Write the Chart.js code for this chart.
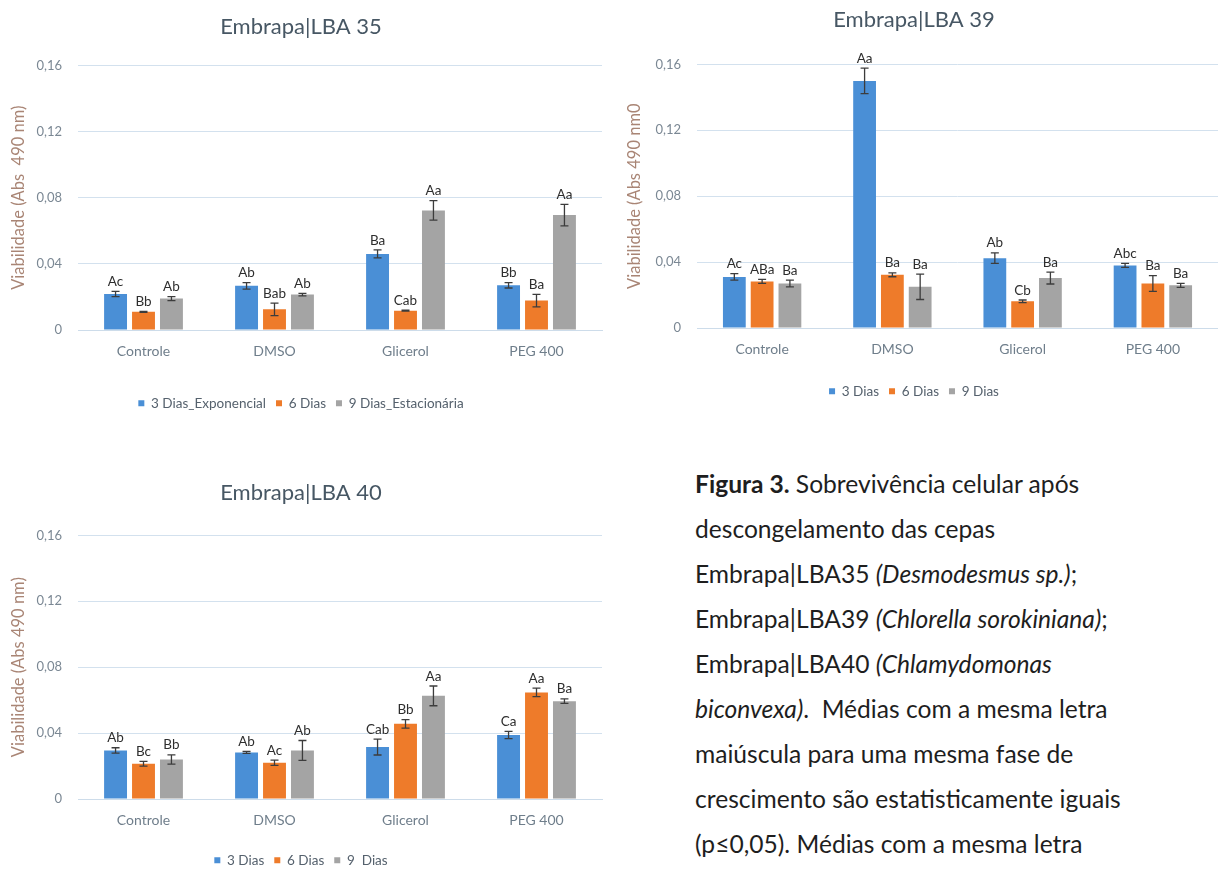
<!DOCTYPE html>
<html>
<head>
<meta charset="utf-8">
<script src="https://cdn.jsdelivr.net/npm/chart.js@4"></script>
<style>
  html, body { margin: 0; padding: 0; background: #fff; overflow: hidden; }
  body { width: 1218px; height: 870px; position: relative; }
  .box { position: absolute; }
  #caption {
    position: absolute; left: 695px; top: 461px;
    font-family: Lato, "Noto Sans", sans-serif; font-size: 24.6px; line-height: 45px;
    color: #1e1e1e; white-space: nowrap;
  }
</style>
</head>
<body>
<div class="box" style="left:0;top:0;width:610px;height:420px"><canvas id="lba35"></canvas></div>
<div class="box" style="left:610px;top:0;width:608px;height:420px"><canvas id="lba39"></canvas></div>
<div class="box" style="left:0;top:460px;width:610px;height:420px"><canvas id="lba40"></canvas></div>
<div id="caption">
  <b>Figura 3.</b> Sobrevivência celular após<br>
  descongelamento das cepas<br>
  Embrapa|LBA35 <i>(Desmodesmus sp.)</i>;<br>
  Embrapa|LBA39 <i>(Chlorella sorokiniana)</i>;<br>
  Embrapa|LBA40 <i>(Chlamydomonas</i><br>
  <i>biconvexa)</i>.&nbsp; Médias com a mesma letra<br>
  maiúscula para uma mesma fase de<br>
  crescimento são estatisticamente iguais<br>
  (p≤0,05). Médias com a mesma letra
</div>
<script>
var categories = ['Controle', 'DMSO', 'Glicerol', 'PEG 400'];
var yTickValues = [0, 0.04, 0.08, 0.12, 0.16];
var yTickLabels = ['0', '0,04', '0,08', '0,12', '0,16'];

// Embrapa|LBA 35
var lba35Dia3 = [0.0218, 0.0267, 0.0460, 0.0270];
var lba35Dia6 = [0.0110, 0.0125, 0.0117, 0.0178];
var lba35Dia9 = [0.0190, 0.0214, 0.0723, 0.0695];
var lba35Err3 = [0.0016, 0.0020, 0.0024, 0.0016];
var lba35Err6 = [0.0003, 0.0038, 0.0003, 0.0038];
var lba35Err9 = [0.0012, 0.0008, 0.0059, 0.0065];
var lba35Let3 = ['Ac', 'Ab', 'Ba', 'Bb'];
var lba35Let6 = ['Bb', 'Bab', 'Cab', 'Ba'];
var lba35Let9 = ['Ab', 'Ab', 'Aa', 'Aa'];

// Embrapa|LBA 39
var lba39Dia3 = [0.0310, 0.1500, 0.0424, 0.0380];
var lba39Dia6 = [0.0283, 0.0323, 0.0162, 0.0270];
var lba39Dia9 = [0.0270, 0.0250, 0.0303, 0.0259];
var lba39Err3 = [0.0020, 0.0077, 0.0032, 0.0012];
var lba39Err6 = [0.0012, 0.0012, 0.0008, 0.0048];
var lba39Err9 = [0.0020, 0.0077, 0.0036, 0.0012];
var lba39Let3 = ['Ac', 'Aa', 'Ab', 'Abc'];
var lba39Let6 = ['ABa', 'Ba', 'Cb', 'Ba'];
var lba39Let9 = ['Ba', 'Ba', 'Ba', 'Ba'];

// Embrapa|LBA 40
var lba40Dia3 = [0.0295, 0.0283, 0.0315, 0.0388];
var lba40Dia6 = [0.0214, 0.0220, 0.0456, 0.0647];
var lba40Dia9 = [0.0240, 0.0295, 0.0626, 0.0594];
var lba40Err3 = [0.0016, 0.0006, 0.0048, 0.0022];
var lba40Err6 = [0.0014, 0.0016, 0.0026, 0.0026];
var lba40Err9 = [0.0028, 0.0060, 0.0060, 0.0014];
var lba40Let3 = ['Ab', 'Ab', 'Cab', 'Ca'];
var lba40Let6 = ['Bc', 'Ac', 'Bb', 'Aa'];
var lba40Let9 = ['Bb', 'Ab', 'Aa', 'Ba'];

var FONT = 'Lato, "Noto Sans", sans-serif';
var BLUE = '#4a8fd6', ORANGE = '#ee7b2a', GRAY = '#a4a4a4';

// error bars + letters above each bar
var errorBars = {
  id: 'errorBars',
  afterDatasetsDraw: function(chart) {
    var ctx = chart.ctx;
    var y = chart.scales.y;
    ctx.save();
    chart.data.datasets.forEach(function(ds, i) {
      var meta = chart.getDatasetMeta(i);
      meta.data.forEach(function(bar, j) {
        var v = ds.data[j], e = ds.errors[j];
        var top = y.getPixelForValue(v + e);
        var bot = y.getPixelForValue(v - e);
        ctx.strokeStyle = '#3c3c3c';
        ctx.lineWidth = 1.3;
        ctx.beginPath();
        ctx.moveTo(bar.x, top); ctx.lineTo(bar.x, bot);
        ctx.moveTo(bar.x - 4, top); ctx.lineTo(bar.x + 4, top);
        ctx.moveTo(bar.x - 4, bot); ctx.lineTo(bar.x + 4, bot);
        ctx.stroke();
        ctx.fillStyle = '#2e2e2e';
        ctx.font = '13.5px ' + FONT;
        ctx.textAlign = 'center';
        ctx.textBaseline = 'bottom';
        ctx.fillText(ds.letters[j], bar.x, top - 3);
      });
    });
    ctx.restore();
  }
};

function makeChart(id, title, yTitle, names, series, errs, lets, lay) {
  var colors = [BLUE, ORANGE, GRAY];
  return new Chart(document.getElementById(id), {
    type: 'bar',
    data: {
      labels: categories,
      datasets: series.map(function(s, i) {
        return {
          label: names[i],
          data: s,
          errors: errs[i],
          letters: lets[i],
          backgroundColor: colors[i],
          barPercentage: 0.82,
          categoryPercentage: 0.64
        };
      })
    },
    options: {
      responsive: true,
      maintainAspectRatio: false,
      animation: false,
      layout: { padding: { left: 0, right: lay.right, top: 0, bottom: lay.bottom } },
      plugins: {
        title: {
          display: true, text: title, color: '#475764',
          font: { family: FONT, size: 22, weight: 'normal' },
          padding: { top: lay.titleTop, bottom: lay.titleBottom }
        },
        legend: {
          position: 'bottom',
          labels: {
            color: '#55616d', boxWidth: 6, boxHeight: 6, padding: 10,
            font: { family: FONT, size: 13.5 }
          }
        },
        tooltip: { enabled: false }
      },
      scales: {
        x: {
          grid: { display: false, drawTicks: false },
          border: { color: '#cddcea' },
          ticks: { color: '#6f7e8b', padding: 13, font: { family: FONT, size: 14 } },
          afterFit: function(s) { s.height = lay.xHeight; }
        },
        y: {
          min: 0, max: 0.16,
          afterBuildTicks: function(s) { s.ticks = yTickValues.map(function(v) { return { value: v }; }); },
          grid: { color: '#d3e1ee', drawTicks: false },
          border: { display: false },
          ticks: {
            color: '#7b8894', padding: 16, font: { family: FONT, size: 13 },
            callback: function(v, i) { return yTickLabels[i]; }
          },
          title: {
            display: true, text: yTitle, color: '#a98575',
            font: { family: FONT, size: 16.5 },
            padding: { top: lay.yTitlePad, bottom: 0 }
          },
          afterFit: function(s) { s.width = lay.yWidth; }
        }
      }
    },
    plugins: [errorBars]
  });
}

makeChart('lba35', 'Embrapa|LBA 35', 'Viabilidade (Abs  490 nm)',
  ['3 Dias_Exponencial', '6 Dias', '9 Dias_Estacionária'],
  [lba35Dia3, lba35Dia6, lba35Dia9], [lba35Err3, lba35Err6, lba35Err9], [lba35Let3, lba35Let6, lba35Let9],
  { right: 8, bottom: 0, titleTop: 14, titleBottom: 25, xHeight: 56.5, yWidth: 78, yTitlePad: 9 });

makeChart('lba39', 'Embrapa|LBA 39', 'Viabilidade (Abs 490 nm0',
  ['3 Dias', '6 Dias', '9 Dias'],
  [lba39Dia3, lba39Dia6, lba39Dia9], [lba39Err3, lba39Err6, lba39Err9], [lba39Let3, lba39Let6, lba39Let9],
  { right: 0, bottom: 12, titleTop: 7, titleBottom: 31, xHeight: 46.5, yWidth: 87, yTitlePad: 15 });

makeChart('lba40', 'Embrapa|LBA 40', 'Viabilidade (Abs 490 nm)',
  ['3 Dias', '6 Dias', '9  Dias'],
  [lba40Dia3, lba40Dia6, lba40Dia9], [lba40Err3, lba40Err6, lba40Err9], [lba40Let3, lba40Let6, lba40Let9],
  { right: 8, bottom: 3, titleTop: 20, titleBottom: 29, xHeight: 44.5, yWidth: 78, yTitlePad: 9 });
</script>
</body>
</html>
